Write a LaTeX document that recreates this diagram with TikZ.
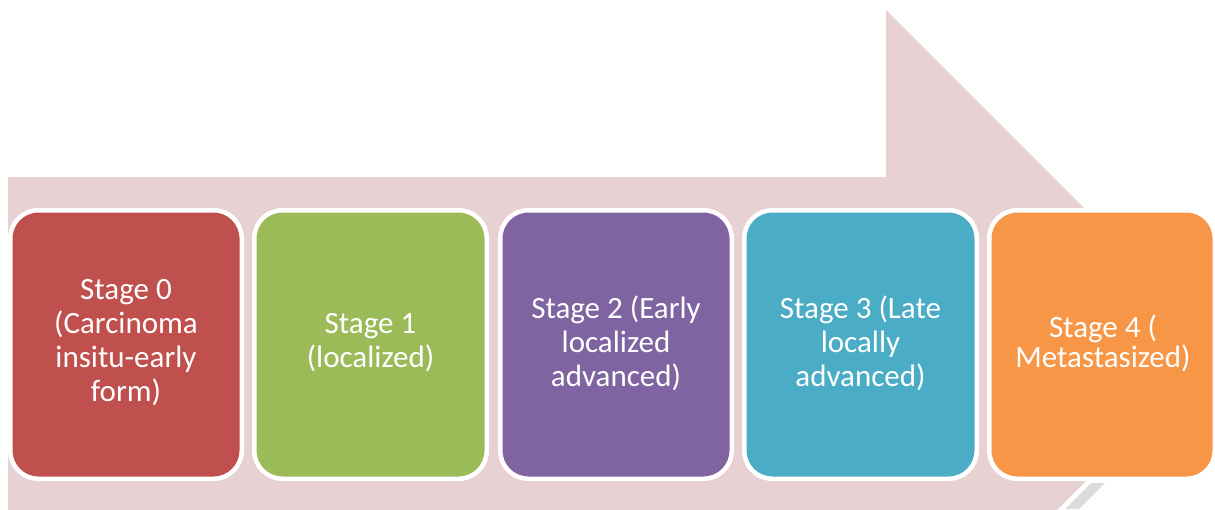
\documentclass[tikz,border=0pt]{standalone}
\usepackage{fontspec}
\setmainfont{Carlito}
\definecolor{arrowpink}{HTML}{E8D1D2}
\definecolor{cred}{HTML}{C0504D}
\definecolor{cgreen}{HTML}{9BBB59}
\definecolor{cpurple}{HTML}{8064A2}
\definecolor{cteal}{HTML}{4BACC6}
\definecolor{corange}{HTML}{F79646}
\definecolor{shadowgray}{HTML}{DCDCDC}
\tikzset{
  stagebox/.style={draw=white, line width=4.5pt, rounded corners=28pt},
  stagetext/.style={text=white, align=center, inner sep=0pt,
    font=\fontsize{31}{34}\selectfont},
}
\begin{document}
\begin{tikzpicture}[x=1pt,y=-1pt]
\useasboundingbox (0,0) rectangle (1215,509);
\begin{scope}
\clip (0,0) rectangle (1215,509);
% big arrow
\fill[arrowpink] (8,177) -- (886,177) -- (886,10) -- (1221.5,345.5)
  -- (886,681) -- (886,514) -- (8,514) -- cycle;
% reflection strip
\fill[shadowgray] (1091,483) -- (1105,483) -- (1079,509) -- (1065,509) -- cycle;
\end{scope}
% stage boxes
\filldraw[stagebox, fill=cred]    (10.25,210.25) rectangle (241.75,478.75);
\filldraw[stagebox, fill=cgreen]  (254.25,210.25) rectangle (486.75,478.75);
\filldraw[stagebox, fill=cpurple] (500.25,210.25) rectangle (731.75,478.75);
\filldraw[stagebox, fill=cteal]   (744.25,210.25) rectangle (976.75,478.75);
\filldraw[stagebox, fill=corange] (989.25,210.25) rectangle (1214.75,478.75);
% texts
\node[stagetext] (t0) at (126,343) {Stage 0\\(Carcinoma\\insitu-early\\form)};
\node[stagetext] (t1) at (370.5,343) {Stage 1\\(localized)};
\node[stagetext] (t2) at (616,343) {Stage 2 (Early\\localized\\advanced)};
\node[stagetext] (t3) at (860.5,343) {Stage 3 (Late\\locally\\advanced)};
\node[stagetext, font=\fontsize{31}{30}\selectfont] (t4) at (1103,343) {Stage 4 (\\Metastasized)};
\end{tikzpicture}
\end{document}
